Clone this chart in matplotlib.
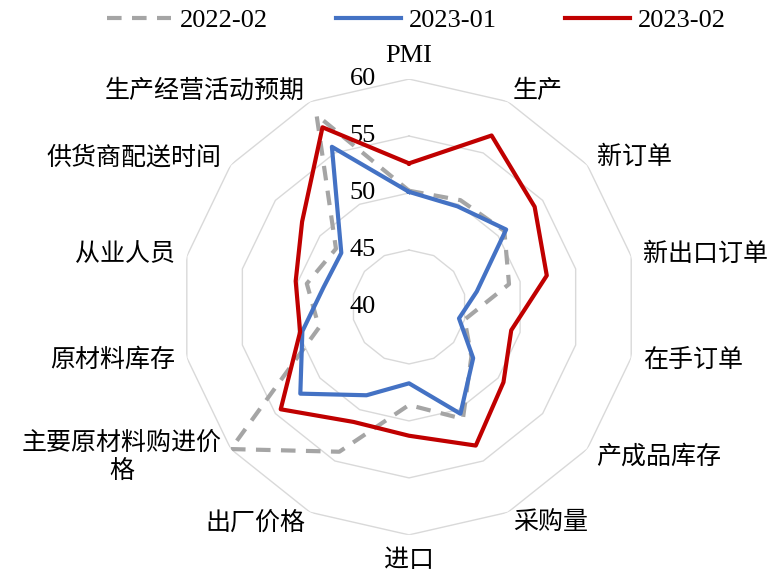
import numpy as np
import matplotlib.pyplot as plt

plt.rcParams['font.family'] = ['Liberation Serif', 'Noto Sans CJK SC']

# categories, clockwise from the top
categories = ['PMI', '生产', '新订单', '新出口订单', '在手订单', '产成品库存', '采购量',
              '进口', '出厂价格', '主要原材料购进价\n格', '原材料库存', '从业人员',
              '供货商配送时间', '生产经营活动预期']
series_names = ['2022-02', '2023-01', '2023-02']
v_2022_02 = [50.2, 50.4, 50.7, 49.0, 45.0, 47.0, 50.9, 48.6, 54.1, 60.0, 48.1, 49.2, 48.2, 58.7]
v_2023_01 = [50.1, 49.8, 50.9, 46.1, 44.5, 47.2, 50.4, 46.7, 48.6, 52.2, 49.6, 47.7, 47.6, 55.6]
v_2023_02 = [52.6, 56.7, 54.1, 52.4, 49.2, 50.6, 53.5, 51.3, 51.2, 54.4, 49.8, 50.2, 52.0, 57.5]
r_ticks = [40, 45, 50, 55, 60]

n = len(categories)
theta = np.arange(n) * 2 * np.pi / n
theta_c = np.append(theta, theta[0])


def closed(v):
    return np.append(v, v[0])


fig = plt.figure(figsize=(7.71, 5.77), dpi=100)
ax = fig.add_axes([0.2348, 0.073, 0.5914, 0.790], projection='polar')
ax.set_theta_zero_location('N')
ax.set_theta_direction(-1)
ax.set_ylim(40, 60)
ax.grid(False)
ax.spines['polar'].set_visible(False)
ax.set_xticks([])
ax.set_yticks([])
ax.patch.set_alpha(0)

# polygon gridlines
for rv in r_ticks[1:]:
    ax.plot(theta_c, [rv] * (n + 1), color='#D9D9D9', lw=1.0, zorder=1)

ax.plot(theta_c, closed(v_2022_02), color='#A5A5A5', lw=3, ls=(0, (3.5, 2.5)),
        label=series_names[0], zorder=2)
ax.plot(theta_c, closed(v_2023_01), color='#4472C4', lw=3, label=series_names[1], zorder=3)
ax.plot(theta_c, closed(v_2023_02), color='#C00000', lw=3, label=series_names[2], zorder=4)

# radial value labels
for rv in r_ticks:
    ax.annotate(str(rv), xy=(0, rv), xytext=(-33, 0), textcoords='offset pixels',
                ha='right', va='center', fontsize=19, annotation_clip=False)

# category labels
r_lab = 61.05
for t, lab in zip(theta, categories):
    s, c = np.sin(t), np.cos(t)
    if abs(s) < 0.1:
        ha = 'center'
        va = 'bottom' if c > 0 else 'top'
    else:
        ha = 'left' if s > 0 else 'right'
        va = 'center'
    ax.text(t, r_lab, lab, ha=ha, va=va, ma='center', fontsize=18 if lab != 'PMI' else 19,
            family=['Liberation Serif', 'Noto Sans CJK SC'] if lab == 'PMI' else ['Noto Sans CJK SC'],
            linespacing=1.1)

fig.legend(loc='center', bbox_to_anchor=(0.54, 0.965), ncol=3, frameon=False,
           fontsize=19, handlelength=2.45, handletextpad=0.3, columnspacing=2.6)

fig.savefig('out.png', dpi=100)
